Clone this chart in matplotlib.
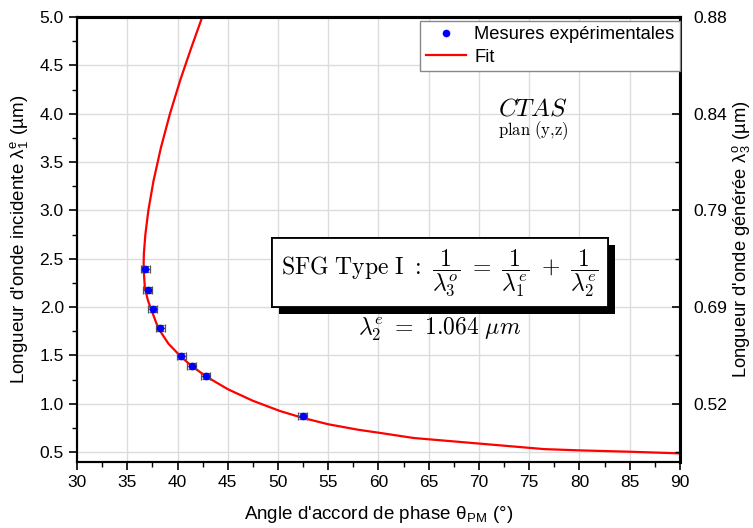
import matplotlib
matplotlib.use("Agg")
import matplotlib.pyplot as plt
from matplotlib.ticker import MultipleLocator, FixedLocator
import matplotlib.patheffects as pe

plt.rcParams['font.family'] = ['Liberation Sans', 'DejaVu Sans']
plt.rcParams['mathtext.fontset'] = 'cm'

# measured data
theta_meas = [36.77, 37.03, 37.53, 38.26, 40.35, 41.41, 42.80, 52.46]
lam_meas = [2.39, 2.18, 1.98, 1.78, 1.49, 1.39, 1.29, 0.87]
theta_err = [0.45] * 8
lam_err = [0.03] * 8

# fit curve
theta_fit = [42.46, 41.33, 40.28, 39.25, 38.35, 37.60, 37.10, 36.80, 36.65, 36.62,
             36.75, 37.05, 37.36, 38.09, 39.10, 40.35, 41.41, 42.80, 45.00, 47.50,
             50.20, 52.40, 55.00, 58.00, 60.00, 63.50, 76.50, 80.00, 85.00, 90.00]
lam_fit = [5.00, 4.67, 4.35, 4.00, 3.65, 3.30, 3.00, 2.75, 2.55, 2.40,
           2.20, 2.07, 1.98, 1.78, 1.62, 1.485, 1.39, 1.285, 1.15, 1.03,
           0.924, 0.855, 0.787, 0.73, 0.70, 0.645, 0.53, 0.517, 0.503, 0.486]

right_tick_pos = [5.0, 4.0, 3.0, 2.0, 1.0]
right_tick_labels = ["0.88", "0.84", "0.79", "0.69", "0.52"]

fig = plt.figure(figsize=(7.53, 5.28), dpi=100)
ax = fig.add_axes([0.1023, 0.1256, 0.903 - 0.1023, 0.9678 - 0.1256])

ax.grid(True, color='#dcdcdc', lw=1.0, zorder=0)
ax.set_axisbelow(True)

line, = ax.plot(theta_fit, lam_fit, color='red', lw=1.6, zorder=3, label='Fit')
ax.errorbar(theta_meas, lam_meas, xerr=theta_err, yerr=lam_err, fmt='none',
            ecolor='#555555', elinewidth=0.9, capsize=2.8, capthick=0.9, zorder=4)
pts, = ax.plot(theta_meas, lam_meas, 'o', color='blue', ms=5.5, zorder=5,
               label='Mesures expérimentales', markeredgewidth=0)

ax.set_xlim(30, 90)
ax.set_ylim(0.4, 5.0)
ax.xaxis.set_major_locator(MultipleLocator(5))
ax.xaxis.set_minor_locator(MultipleLocator(2.5))
ax.yaxis.set_major_locator(FixedLocator([0.5, 1.0, 1.5, 2.0, 2.5, 3.0, 3.5, 4.0, 4.5, 5.0]))
ax.yaxis.set_minor_locator(FixedLocator([0.75, 1.25, 1.75, 2.25, 2.75, 3.25, 3.75, 4.25, 4.75]))
ax.set_yticklabels(["0.5", "1.0", "1.5", "2.0", "2.5", "3.0", "3.5", "4.0", "4.5", "5.0"])
ax.tick_params(which='major', direction='out', length=6, width=1.2, labelsize=12.5)
ax.tick_params(which='minor', direction='out', length=3.5, width=1.0)
for s in ax.spines.values():
    s.set_linewidth(1.5)
ax.spines['top'].set_linewidth(2.2)

ax.set_xlabel(r"Angle d'accord de phase θ$_{\mathregular{PM}}$ (°)", fontsize=13.5, labelpad=10)
ax.set_ylabel(r"Longueur d'onde incidente λ$_{\mathregular{1}}^{\mathregular{e}}$ (µm)",
              fontsize=13.5, labelpad=6)

ax2 = ax.twinx()
ax2.set_ylim(ax.get_ylim())
ax2.yaxis.set_major_locator(FixedLocator(right_tick_pos))
ax2.set_yticklabels(right_tick_labels)
ax2.yaxis.set_minor_locator(FixedLocator([4.5, 3.5, 2.5, 1.5, 0.5]))
ax2.tick_params(which='major', direction='in', length=6, width=1.2, labelsize=12.5, pad=10)
ax2.tick_params(which='minor', direction='in', length=3.5, width=1.0)
for s in ax2.spines.values():
    s.set_linewidth(1.5)
ax2.spines['right'].set_linewidth(2.2)
ax2.spines['top'].set_linewidth(2.2)
ax2.set_ylabel(r"Longueur d'onde générée λ$_{\mathregular{3}}^{\mathregular{o}}$ (µm)",
               fontsize=13.2)
ax2.yaxis.set_label_coords(1.083, 0.5)

leg = ax2.legend([pts, line], ['Mesures expérimentales', 'Fit'], loc='upper right',
                 bbox_to_anchor=(1.0, 0.992), fontsize=13.2, fancybox=False,
                 edgecolor='#888888', framealpha=1, borderaxespad=0.0,
                 handlelength=2.2, handletextpad=0.45, borderpad=0.3, labelspacing=0.3)
leg.get_frame().set_linewidth(1.0)

# annotations
ax2.text(0.756, 0.795, r'$CTAS$', transform=ax2.transAxes, ha='center', va='center', fontsize=18)
ax2.text(0.756, 0.745, r'$\mathrm{plan\ (y{,}z)}$', transform=ax2.transAxes, ha='center',
         va='center', fontsize=12)
t = ax2.text(0.602, 0.425,
             r'$\mathrm{SFG\ Type\ I\ :}\ \dfrac{1}{\lambda_3^o}\ =\ \dfrac{1}{\lambda_1^e}\ +\ \dfrac{1}{\lambda_2^e}$',
             transform=ax2.transAxes, ha='center', va='center', fontsize=17,
             bbox=dict(boxstyle='square,pad=0.4', fc='white', ec='black', lw=1.3))
t.get_bbox_patch().set_path_effects([pe.withSimplePatchShadow(offset=(5, -5), shadow_rgbFace='black', alpha=1.0), pe.Normal()])
ax2.text(0.602, 0.298, r'$\lambda_2^e\ =\ 1.064\ \mu m$', transform=ax2.transAxes,
         ha='center', va='center', fontsize=17)

fig.savefig('out.png', dpi=100)
